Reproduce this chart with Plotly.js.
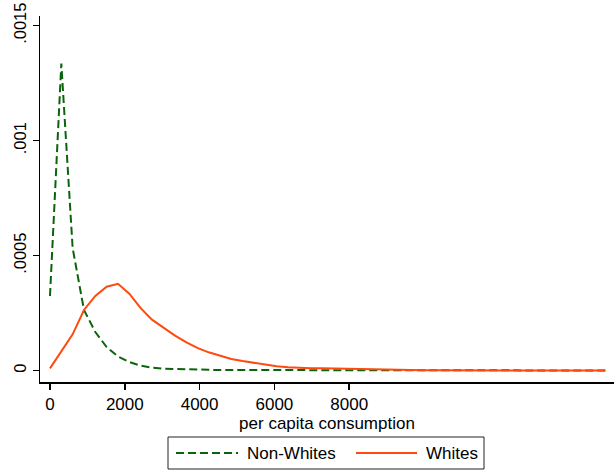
<!DOCTYPE html>
<html>
<head>
<meta charset="utf-8">
<script src="https://cdn.plot.ly/plotly-3.0.1.min.js"></script>
<style>html,body{margin:0;padding:0;background:#fff;}#chart{width:614px;height:470px;}</style>
</head>
<body>
<div id="chart"></div>
<script>
// per capita consumption grid (kernel density evaluation points)
const consumption = [0,303,606,909,1212,1515,1818,2121,2424,2727,3030,3333,3636,3939,4242,4545,4848,5151,5454,5757,6060,6363,6666,6969,7272,7575,7878,8181,8484,8787,9090,9393,9696,9999,10302,10605,10908,11211,11514,11817,12120,12423,12726,13029,13332,13635,13938,14241,14544,14847];

const nonWhites = [0.000325,0.001335,0.000533,0.000264,0.000168,0.000103,0.000062,0.000038,0.000022,0.000013,0.000009,0.000007,0.000005,0.000004,0.000004,0.000003,0.000003,0.000003,0.000003,0.000003,0.000003,0.000003,0.000003,0.000003,0.000002,0.000002,0.000002,0.000002,0.000002,0.000002,0.000002,0.000001,0.000001,0.000001,0.000001,0.000001,0.000001,0.000001,0.000001,0.000001,0.000001,0.000001,0.000001,0.000001,0.000001,0.000001,0.000001,0.000001,0.000001,0.000001];

const whites = [0.000010,0.000085,0.000158,0.000264,0.000325,0.000365,0.000378,0.000335,0.000272,0.000222,0.000188,0.000154,0.000124,0.000099,0.000080,0.000064,0.000051,0.000042,0.000034,0.000026,0.000019,0.000015,0.000012,0.000011,0.000011,0.000010,0.000009,0.000007,0.000005,0.000003,0.000002,0.000002,0.000002,0.0000015,0.0000015,0.0000015,0.0000015,0.0000015,0.0000012,0.0000012,0.0000012,0.0000012,0.000001,0.000001,0.000001,0.000001,0.000001,0.000001,0.000001,0.000001];

const seriesNames = ['Non-Whites', 'Whites'];
const xTickVals = [0, 2000, 4000, 6000, 8000];
const xTickText = ['0', '2000', '4000', '6000', '8000'];
const yTickVals = [0, 0.0005, 0.001, 0.0015];
const yTickText = ['0', '.0005', '.001', '.0015'];
const xTitle = 'per capita consumption';

const GREEN = '#0b640b';
const ORANGE = '#ff4a0e';
const FONT = 'Liberation Sans, Arial, Helvetica, sans-serif';
const FS = 17;

const W = 614, H = 470;
const M = {l: 40, r: 0, t: 16, b: 88};
const px2x = p => (p - M.l) / (W - M.l - M.r);
const px2y = p => (H - M.b - p) / (H - M.t - M.b);

const traces = [
  {x: consumption, y: nonWhites, type: 'scatter', mode: 'lines', name: seriesNames[0],
   line: {color: GREEN, width: 2, dash: '8px,4px'}, showlegend: false},
  {x: consumption, y: whites, type: 'scatter', mode: 'lines', name: seriesNames[1],
   line: {color: ORANGE, width: 2}, showlegend: false}
];

const legY = 453;
const layout = {
  width: W, height: H,
  margin: M,
  paper_bgcolor: '#fff', plot_bgcolor: '#fff',
  font: {family: FONT, size: FS, color: '#000'},
  showlegend: false,
  xaxis: {
    range: [-267, 15080], showgrid: false, zeroline: false,
    showline: true, linecolor: '#000', linewidth: 1.5,
    ticks: 'outside', ticklen: 6, tickwidth: 1.5, tickcolor: '#000',
    tickvals: xTickVals, ticktext: xTickText,
    tickfont: {family: FONT, size: FS, color: '#000'},
    title: {text: xTitle, font: {family: FONT, size: FS, color: '#000'}, standoff: 0}
  },
  yaxis: {
    range: [-0.0000491, 0.0015422], showgrid: false, zeroline: false,
    showline: true, linecolor: '#000', linewidth: 1.5,
    ticks: 'outside', ticklen: 6, tickwidth: 1.5, tickcolor: '#000',
    tickvals: yTickVals, ticktext: yTickText, tickangle: -90,
    tickfont: {family: FONT, size: 16.5, color: '#000'}
  },
  shapes: [
    {type: 'rect', xref: 'paper', yref: 'paper', x0: px2x(168), x1: px2x(484), y0: px2y(469), y1: px2y(437),
     line: {color: '#222', width: 1}, fillcolor: 'rgba(0,0,0,0)'},
    {type: 'line', xref: 'paper', yref: 'paper', x0: px2x(176), x1: px2x(238), y0: px2y(legY), y1: px2y(legY),
     line: {color: GREEN, width: 2, dash: '8px,4px'}},
    {type: 'line', xref: 'paper', yref: 'paper', x0: px2x(356), x1: px2x(417), y0: px2y(legY), y1: px2y(legY),
     line: {color: ORANGE, width: 2}}
  ],
  annotations: [
    {xref: 'paper', yref: 'paper', x: px2x(245), y: px2y(legY), xanchor: 'left', yanchor: 'middle',
     text: seriesNames[0], showarrow: false, font: {family: FONT, size: FS, color: '#000'}},
    {xref: 'paper', yref: 'paper', x: px2x(424), y: px2y(legY), xanchor: 'left', yanchor: 'middle',
     text: seriesNames[1], showarrow: false, font: {family: FONT, size: FS, color: '#000'}}
  ]
};

Plotly.newPlot('chart', traces, layout, {displayModeBar: false, staticPlot: true});
</script>
</body>
</html>
